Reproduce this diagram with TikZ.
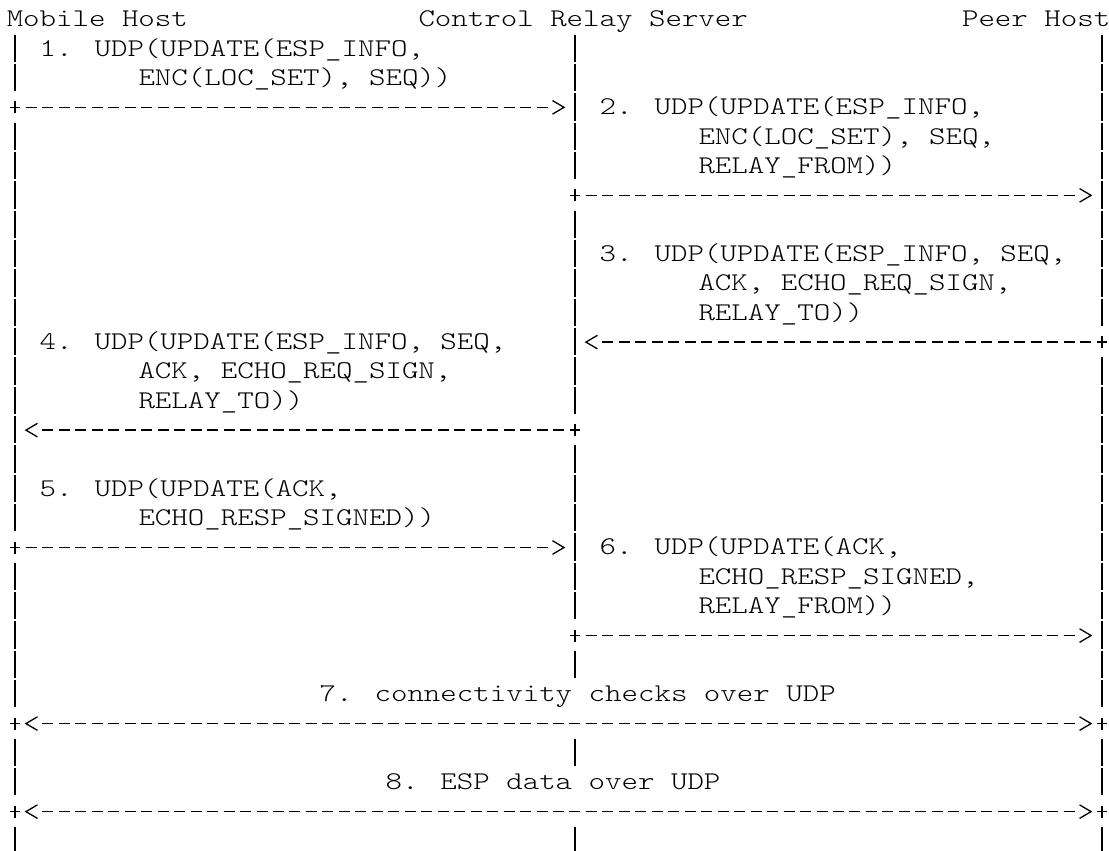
\documentclass[tikz,border=0pt]{standalone}
\usepackage{fontspec}
\newfontfamily\asc{Latin Modern Mono Light}[FakeStretch=1.2303]
\usetikzlibrary{arrows.meta}
\pgfdeclarearrow{
  name = Chev,
  setup code = {
    \pgfarrowssettipend{0pt}
    \pgfarrowssetbackend{-12.5pt}
    \pgfarrowssetvisualbackend{-12.5pt}
    \pgfarrowssetlineend{-16.97pt}
  },
  drawing code = {
    \pgfsetdash{}{0pt}
    \pgfsetmiterjoin
    \pgfpathmoveto{\pgfqpoint{-12pt}{6.8pt}}
    \pgfpathlineto{\pgfqpoint{-0.5pt}{0pt}}
    \pgfpathlineto{\pgfqpoint{-12pt}{-6.8pt}}
    \pgfusepathqstroke
  }
}
\tikzset{
  lbl/.style={anchor=base west, inner sep=0pt, outer sep=0pt,
    font=\asc\fontsize{25.5}{30}\selectfont},
  plusmark/.style={inner sep=0pt, outer sep=0pt, minimum width=10pt, minimum height=12pt,
    path picture={\draw[line width=1.3pt]
      (path picture bounding box.north) -- (path picture bounding box.south)
      (path picture bounding box.west) -- (path picture bounding box.east);}},
  msg/.style={line width=1.3pt, dash pattern=on 11pt off 5.47pt,
    shorten <=10.97pt, shorten >=10.47pt, -{Chev}},
  msgboth/.style={line width=1.3pt, dash pattern=on 11pt off 5.47pt,
    shorten <=10.47pt, shorten >=10.47pt, {Chev}-{Chev}},
  life/.style={line width=1.3pt, dash pattern=on 27.3pt off 2.045pt},
}
\newcommand{\lrun}[3]{\draw[life] (#1,#2-0.7327) -- (#1,#3+0.1874);}
\begin{document}
\begin{tikzpicture}[x=16.47pt,y=-29.345pt]
\useasboundingbox (-0.9107,-0.9099) rectangle (66.424,28.09);

% headers
\node[lbl] (mh) at (-0.5,0) {Mobile Host};
\node[lbl] (crs) at (24.5,0) {Control Relay Server};
\node[lbl] (ph) at (57.5,0) {Peer Host};

% lifelines (left col 0, centre col 34, right col 66)
\lrun{0}{1}{2}
\lrun{0}{4}{17}
\lrun{0}{19}{23}
\lrun{0}{25}{26}
\lrun{0}{28}{28}
\lrun{34}{1}{5}
\lrun{34}{7}{13}
\lrun{34}{15}{20}
\lrun{34}{22}{22}
\lrun{34}{25}{25}
\lrun{34}{28}{28}
\lrun{66}{1}{10}
\lrun{66}{12}{23}
\lrun{66}{25}{26}
\lrun{66}{28}{28}

% message labels
\node[lbl] (t1a) at (1.5,1) {1. UDP(UPDATE(ESP\_INFO,};
\node[lbl] (t1b) at (7.5,2) {ENC(LOC\_SET), SEQ))};
\node[lbl] (t2a) at (35.5,3) {2. UDP(UPDATE(ESP\_INFO,};
\node[lbl] (t2b) at (41.5,4) {ENC(LOC\_SET), SEQ,};
\node[lbl] (t2c) at (41.5,5) {RELAY\_FROM))};
\node[lbl] (t3a) at (35.5,8) {3. UDP(UPDATE(ESP\_INFO, SEQ,};
\node[lbl] (t3b) at (41.5,9) {ACK, ECHO\_REQ\_SIGN,};
\node[lbl] (t3c) at (41.5,10) {RELAY\_TO))};
\node[lbl] (t4a) at (1.5,11) {4. UDP(UPDATE(ESP\_INFO, SEQ,};
\node[lbl] (t4b) at (7.5,12) {ACK, ECHO\_REQ\_SIGN,};
\node[lbl] (t4c) at (7.5,13) {RELAY\_TO))};
\node[lbl] (t5a) at (1.5,16) {5. UDP(UPDATE(ACK,};
\node[lbl] (t5b) at (7.5,17) {ECHO\_RESP\_SIGNED))};
\node[lbl] (t6a) at (35.5,18) {6. UDP(UPDATE(ACK,};
\node[lbl] (t6b) at (41.5,19) {ECHO\_RESP\_SIGNED,};
\node[lbl] (t6c) at (41.5,20) {RELAY\_FROM))};
\node[lbl] (t7) at (18.5,23) {7. connectivity checks over UDP};
\node[lbl] (t8) at (22.5,26) {8. ESP data over UDP};

% plus marks at message origins
\node[plusmark] (p1) at (0,3-0.252) {};
\node[plusmark] (p2) at (34,6-0.252) {};
\node[plusmark] (p3) at (66,11-0.252) {};
\node[plusmark] (p4) at (34,14-0.252) {};
\node[plusmark] (p5) at (0,18-0.252) {};
\node[plusmark] (p6) at (34,21-0.252) {};
\node[plusmark] (p7l) at (0,24-0.252) {};
\node[plusmark] (p7r) at (66,24-0.252) {};
\node[plusmark] (p8l) at (0,27-0.252) {};
\node[plusmark] (p8r) at (66,27-0.252) {};

% receiving points on lifelines
\coordinate (r1) at (34,3-0.252);
\coordinate (r2) at (66,6-0.252);
\coordinate (r3) at (34,11-0.252);
\coordinate (r4) at (0,14-0.252);
\coordinate (r5) at (34,18-0.252);
\coordinate (r6) at (66,21-0.252);

% messages
\draw[msg] (p1.center) -- (r1);
\draw[msg] (p2.center) -- (r2);
\draw[msg] (p3.center) -- (r3);
\draw[msg] (p4.center) -- (r4);
\draw[msg] (p5.center) -- (r5);
\draw[msg] (p6.center) -- (r6);
\draw[msgboth] (p7l.center) -- (p7r.center);
\draw[msgboth] (p8l.center) -- (p8r.center);
\end{tikzpicture}
\end{document}
